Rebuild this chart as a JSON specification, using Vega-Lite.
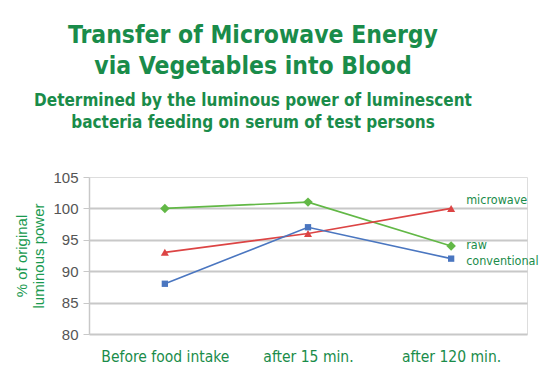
{
  "$schema": "https://vega.github.io/schema/vega-lite/v6.json",
  "width": 438,
  "height": 157,
  "autosize": {"type": "none"},
  "padding": {"left": 89, "top": 177, "right": 27, "bottom": 32},
  "background": "white",
  "title": {
    "text": ["Transfer of Microwave Energy", "via Vegetables into Blood"],
    "subtitle": ["Determined by the luminous power of luminescent", "bacteria feeding on serum of test persons"],
    "anchor": "middle",
    "dx": -55,
    "offset": 38,
    "font": "DejaVu Sans Condensed",
    "fontSize": 24.5,
    "fontWeight": "bold",
    "color": "#1a8c4a",
    "lineHeight": 31,
    "subtitleFont": "DejaVu Sans Condensed",
    "subtitleFontSize": 17,
    "subtitleFontWeight": "bold",
    "subtitleColor": "#1a8c4a",
    "subtitleLineHeight": 22,
    "subtitlePadding": 14
  },
  "data": {
    "values": [
      {"time": "Before food intake", "series": "raw", "value": 100},
      {"time": "after 15 min.", "series": "raw", "value": 101},
      {"time": "after 120 min.", "series": "raw", "value": 94},
      {"time": "Before food intake", "series": "microwave", "value": 93},
      {"time": "after 15 min.", "series": "microwave", "value": 96},
      {"time": "after 120 min.", "series": "microwave", "value": 100},
      {"time": "Before food intake", "series": "conventional", "value": 88},
      {"time": "after 15 min.", "series": "conventional", "value": 97},
      {"time": "after 120 min.", "series": "conventional", "value": 92}
    ]
  },
  "encoding": {
    "x": {
      "field": "time",
      "type": "ordinal",
      "sort": ["Before food intake", "after 15 min.", "after 120 min."],
      "scale": {"type": "point", "padding": 0.53},
      "axis": {
        "title": null,
        "domain": false,
        "ticks": false,
        "labelAngle": 0,
        "labelFont": "DejaVu Sans Condensed",
        "labelFontSize": 15.5,
        "labelColor": "#1a8c4a",
        "labelPadding": 15,
        "labelBaseline": "top"
      }
    },
    "y": {
      "field": "value",
      "type": "quantitative",
      "scale": {"domain": [80, 105], "nice": false, "zero": false},
      "axis": {
        "values": [80, 85, 90, 95, 100, 105],
        "title": ["% of original", "luminous power"],
        "titleColor": "#1a9a50",
        "titleFont": "Liberation Sans",
        "titleFontSize": 15,
        "titleFontWeight": "normal",
        "titleLineHeight": 17,
        "titlePadding": 6,
        "labelFont": "Liberation Sans",
        "labelFontSize": 15,
        "labelColor": "#555555",
        "labelPadding": 5,
        "domainColor": "#c8c8c8",
        "domainWidth": 1.5,
        "tickColor": "#c8c8c8",
        "tickSize": 6,
        "grid": true,
        "gridColor": {"condition": {"test": "datum.value > 100", "value": "transparent"}, "value": "#c8c8c8"},
        "gridWidth": 2
      }
    },
    "color": {
      "field": "series",
      "type": "nominal",
      "scale": {"domain": ["raw", "microwave", "conventional"], "range": ["#62b846", "#dc4444", "#4a76c0"]},
      "legend": null
    }
  },
  "layer": [
    {"mark": {"type": "line", "strokeWidth": 1.6}},
    {
      "mark": {"type": "point", "filled": true, "opacity": 1},
      "encoding": {
        "shape": {
          "field": "series",
          "type": "nominal",
          "scale": {"domain": ["raw", "microwave", "conventional"], "range": ["diamond", "triangle-up", "square"]},
          "legend": null
        },
        "size": {
          "field": "series",
          "type": "nominal",
          "scale": {"domain": ["raw", "microwave", "conventional"], "range": [90, 40, 140]},
          "legend": null
        }
      }
    },
    {
      "transform": [{"filter": "datum.time === 'after 120 min.' && datum.series === 'microwave'"}],
      "mark": {"type": "text", "align": "left", "dx": 15, "dy": -8, "font": "DejaVu Sans Condensed", "fontSize": 12.5},
      "encoding": {"text": {"field": "series"}, "color": {"value": "#1a8c4a"}}
    },
    {
      "transform": [{"filter": "datum.time === 'after 120 min.' && datum.series === 'raw'"}],
      "mark": {"type": "text", "align": "left", "dx": 15, "dy": -1, "font": "DejaVu Sans Condensed", "fontSize": 12.5},
      "encoding": {"text": {"field": "series"}, "color": {"value": "#1a8c4a"}}
    },
    {
      "transform": [{"filter": "datum.time === 'after 120 min.' && datum.series === 'conventional'"}],
      "mark": {"type": "text", "align": "left", "dx": 15, "dy": 2, "font": "DejaVu Sans Condensed", "fontSize": 12.5},
      "encoding": {"text": {"field": "series"}, "color": {"value": "#1a8c4a"}}
    }
  ]
}
